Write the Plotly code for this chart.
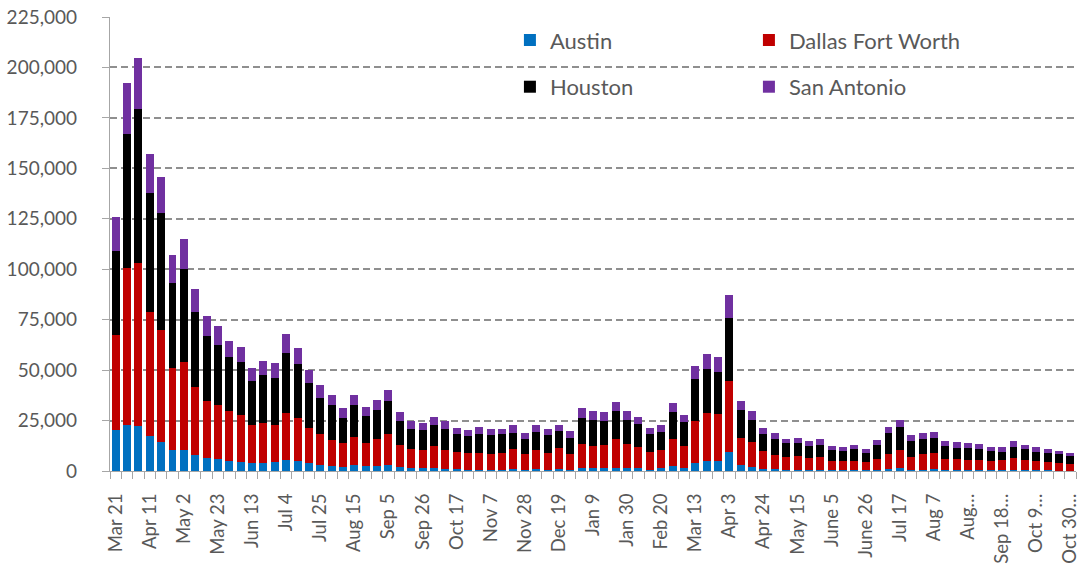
import plotly.graph_objects as go
import pandas as pd

# Weekly categories (Mar 21, 2020 .. Oct 30, 2021)
weeks = pd.date_range("2020-03-21", periods=85, freq="7D").strftime("%Y-%m-%d").tolist()

tick_labels = ["Mar 21", "Apr 11", "May 2", "May 23", "Jun 13", "Jul 4", "Jul 25",
               "Aug 15", "Sep 5", "Sep 26", "Oct 17", "Nov 7", "Nov 28", "Dec 19",
               "Jan 9", "Jan 30", "Feb 20", "Mar 13", "Apr 3", "Apr 24", "May 15",
               "June 5", "June 26", "Jul 17", "Aug 7", "Aug…", "Sep 18…", "Oct 9…",
               "Oct 30…"]

austin = [20300, 23000, 22300, 17300, 14200, 10200, 10400, 7800, 6300, 5800,
          5100, 4500, 3800, 4100, 4500, 5500, 4800, 3800, 3100, 2300,
          2000, 2800, 2300, 2300, 3100, 2100, 1500, 1300, 1500, 800,
          800, 700, 700, 700, 700, 800, 500, 800, 700, 800,
          700, 1700, 1300, 1300, 1700, 1300, 1300, 700, 1300, 2300,
          1700, 4000, 5100, 5000, 9300, 2800, 2100, 1200, 800, 700,
          700, 700, 700, 300, 300, 500, 300, 700, 1000, 1300,
          700, 700, 1000, 700, 700, 300, 300, 300, 300, 300,
          300, 300, 300, 200, 200]

dallas_fort_worth = [46900, 77500, 80600, 61500, 55700, 40800, 43600, 33700, 28600, 27100,
                     24800, 23500, 19200, 19800, 18200, 23100, 21300, 17300, 15200, 13100,
                     11700, 13900, 11700, 13700, 15200, 10900, 9200, 9300, 10700, 9800,
                     8400, 8100, 8100, 7700, 8100, 9900, 7800, 9400, 8100, 10400,
                     7600, 11900, 11300, 11600, 14000, 12200, 10600, 8900, 9300, 13400,
                     10500, 20600, 23600, 23100, 35500, 13700, 12100, 8600, 7300, 6100,
                     6600, 5600, 6200, 4800, 4800, 4600, 4300, 5400, 7600, 9300,
                     6400, 7900, 8100, 5400, 5100, 5300, 5300, 4700, 5000, 6000,
                     5000, 4500, 4000, 3800, 3400]

houston = [41600, 66300, 76300, 58800, 58200, 42300, 46300, 37300, 32000, 29700,
           26800, 26100, 21800, 23500, 23500, 29700, 26800, 22300, 17700, 17200,
           12700, 15900, 13200, 14000, 16200, 11700, 10100, 9600, 10400, 10400,
           8900, 8600, 9400, 9200, 9400, 8300, 7600, 9100, 9100, 8600,
           8300, 12900, 12900, 11900, 13900, 11900, 11200, 8600, 8600, 13400,
           12100, 20800, 21800, 20800, 30900, 13600, 11200, 8400, 7600, 6900,
           6400, 5900, 6000, 5100, 4800, 6000, 4300, 6900, 10400, 11100,
           7800, 7300, 7100, 6100, 5500, 5600, 5300, 5000, 4300, 5800,
           5600, 4800, 4600, 4300, 4000]

san_antonio = [17300, 25600, 25300, 19700, 17700, 13700, 14500, 11400, 9700, 9100,
               7900, 7400, 6300, 7100, 7400, 9700, 8300, 6800, 6400, 5000,
               4600, 5100, 4500, 5000, 5400, 4600, 3800, 3500, 4000, 3600,
               3100, 3100, 3500, 3300, 2800, 3600, 2800, 3300, 3100, 3100,
               3100, 4500, 4000, 4600, 4500, 4100, 3500, 3300, 3500, 4500,
               3600, 6400, 7400, 7400, 11700, 4500, 4300, 3100, 3000, 2300,
               2600, 2600, 2800, 2300, 2100, 1800, 1800, 2600, 3000, 3600,
               3100, 3000, 3300, 2800, 3000, 2700, 2500, 2100, 2100, 2600,
               2100, 2300, 2100, 1800, 1500]

series = [
    ("Austin", austin, "#0070C0", "legend"),
    ("Dallas Fort Worth", dallas_fort_worth, "#C00000", "legend"),
    ("Houston", houston, "#000000", "legend2"),
    ("San Antonio", san_antonio, "#7030A0", "legend2"),
]

FONT = "Lato, 'Open Sans', sans-serif"
TXT = "#595959"
AX = "#a6a6a6"

fig = go.Figure()
for name, vals, color, lg in series:
    fig.add_trace(go.Bar(x=weeks, y=vals, name=name, marker_color=color,
                         marker_line_width=0, legend=lg))

ticktext = []
for i in range(len(weeks)):
    ticktext.append(tick_labels[i // 3] if i % 3 == 0 else "")

legend_common = dict(orientation="h", xanchor="left", yanchor="middle",
                     bgcolor="rgba(0,0,0,0)", borderwidth=0,
                     entrywidth=194, entrywidthmode="pixels",
                     font=dict(family=FONT, size=22, color=TXT),
                     traceorder="normal")

fig.update_layout(
    width=1082, height=564,
    margin=dict(l=110, r=6, t=17, b=93),
    paper_bgcolor="white", plot_bgcolor="white",
    barmode="stack", bargap=0.3,
    font=dict(family=FONT, color=TXT),
    legend=dict(x=0.414, y=0.949, **legend_common),
    legend2=dict(x=0.414, y=0.846, **legend_common),
    xaxis=dict(type="category", tickmode="array", tickvals=weeks, ticktext=ticktext,
               tickangle=-90, tickson="boundaries", ticks="outside", ticklen=7,
               tickcolor=AX, tickwidth=1.3, showline=True, linecolor=AX, linewidth=1.3,
               showgrid=False, ticklabelstandoff=14, automargin=False,
               tickfont=dict(family=FONT, size=18.5, color=TXT),
               range=[-0.5, 84.5]),
    yaxis=dict(range=[0, 225000], tickmode="linear", tick0=0, dtick=25000,
               tickformat=",", ticks="outside", ticklen=7, tickcolor=AX, tickwidth=1.3,
               showline=True, linecolor=AX, linewidth=1.3,
               showgrid=True, gridcolor="#8f8f8f", gridwidth=1.5, griddash="7px,4px",
               zeroline=False, ticklabelstandoff=21, automargin=False,
               tickfont=dict(family=FONT, size=19, color=TXT)),
)

fig.write_html("out.html", config={"displayModeBar": False},
               post_script="document.body.style.margin='0px';document.body.style.overflow='hidden';")
